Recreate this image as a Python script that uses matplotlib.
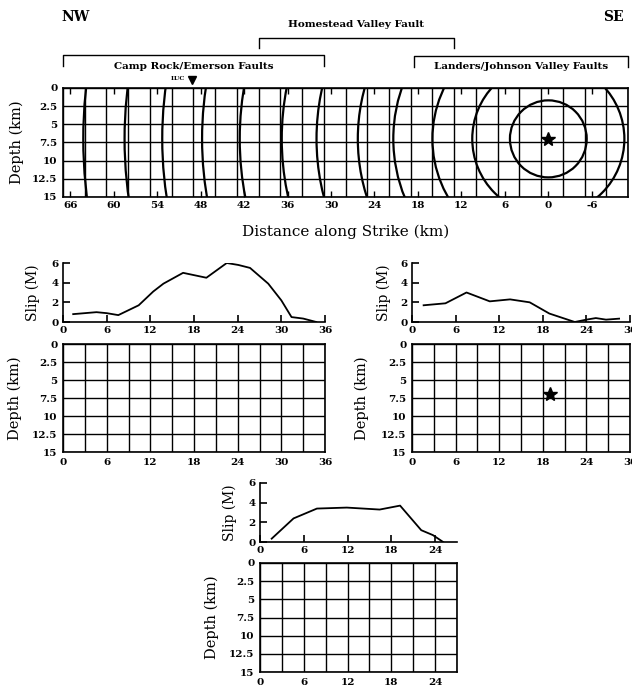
import numpy as np
import matplotlib.pyplot as plt
from matplotlib.patches import Circle
from matplotlib.transforms import blended_transform_factory

plt.rcParams['font.family'] = ['DejaVu Serif']
plt.rcParams['font.weight'] = 'bold'
plt.rcParams['axes.unicode_minus'] = False

# composite fault plane, km along strike from the epicenter (NW positive)
strike_lim = (67, -11)
strike_ticks = [66, 60, 54, 48, 42, 36, 30, 24, 18, 12, 6, 0, -6]
depth_ticks = [0, 2.5, 5, 7.5, 10, 12.5, 15]
depth_labels = ['0', '2.5', '5', '7.5', '10', '12.5', '15']
subfault = 3

hypo_strike, hypo_depth = 0, 7
front_radii = [5.3, 10.5, 16.0, 21.4, 26.3, 32.0, 36.8, 42.6, 47.8, 53.3, 58.5, 64.2]
luc_strike = 49.2

segment_names = ['Camp Rock/Emerson Faults', 'Homestead Valley Fault',
                 'Landers/Johnson Valley Faults']
bracket_ends = [(67, 31), (40, 13), (18.5, -11)]

# average slip along each segment (m)
camp_x = [1.4, 4.6, 6.0, 7.6, 10.4, 12.4, 13.8, 16.5, 19.7, 22.5, 24.1, 25.7,
          28.2, 30.0, 31.4, 33.0, 34.8]
camp_slip = [0.8, 1.0, 0.9, 0.7, 1.7, 3.1, 3.9, 5.0, 4.5, 6.0, 5.8, 5.5,
             3.9, 2.2, 0.5, 0.35, 0.0]
home_x = [1.6, 4.6, 7.5, 10.7, 13.5, 16.2, 18.9, 22.4, 24.0, 25.3, 26.7, 28.5]
home_slip = [1.7, 1.9, 3.0, 2.1, 2.3, 2.0, 0.86, 0.0, 0.24, 0.4, 0.24, 0.34]
land_x = [1.6, 4.6, 7.8, 11.9, 16.4, 19.2, 22.1, 23.7, 25.1]
land_slip = [0.34, 2.4, 3.4, 3.5, 3.3, 3.7, 1.2, 0.7, 0.0]

camp_len, home_len, land_len = 36, 30, 27
home_hypo = (19, 7)

W, H = 632, 686


def box(l, t, r, b):
    return [l / W, 1 - b / H, (r - l) / W, (b - t) / H]


def bold_ticks(ax, size=7.5):
    for lab in ax.get_xticklabels() + ax.get_yticklabels():
        lab.set_fontweight('bold')
        lab.set_fontsize(size)


def fault_grid(ax, x0, x1, xticks):
    lo, hi = min(x0, x1), max(x0, x1)
    ax.vlines(np.arange(lo, hi + 0.1, subfault), 0, 15, color='k', lw=1.0)
    ax.hlines(depth_ticks, lo, hi, color='k', lw=1.0)
    ax.set_xlim(x0, x1)
    ax.set_ylim(15, 0)
    ax.set_xticks(xticks)
    ax.set_yticks(depth_ticks)
    ax.set_yticklabels(depth_labels)
    ax.tick_params(axis='y', length=0, pad=4)
    ax.tick_params(axis='x', length=0, pad=4)
    for s in ax.spines.values():
        s.set_linewidth(1.2)
    bold_ticks(ax)


def side_label(ax, x, text, size=10.5):
    ax.text(x, 0.5, text, transform=ax.transAxes, rotation=90,
            ha='center', va='center', fontsize=size, fontweight='normal')


def slip_panel(ax, x, slip, length):
    ax.plot(x, slip, color='k', lw=1.3)
    ax.set_xlim(0, length)
    ax.set_ylim(0, 6)
    ax.spines[['top', 'right']].set_visible(False)
    for s in ax.spines.values():
        s.set_linewidth(1.2)
    ax.set_xticks(range(0, length + 1, 6))
    ax.set_yticks([0, 2, 4, 6])
    ax.tick_params(direction='in', length=5, width=1.2, pad=3)
    bold_ticks(ax)


fig = plt.figure(figsize=(W / 100, H / 100), dpi=100)

# --- whole rupture with rupture-front contours ---
ax = fig.add_axes(box(63, 88, 628, 197))
fault_grid(ax, strike_lim[0], strike_lim[1], strike_ticks)
ax.tick_params(axis='x', direction='in', length=4, width=1.0,
               top=True, bottom=True, pad=3)
for r in front_radii:
    ax.add_patch(Circle((hypo_strike, hypo_depth), r, fill=False,
                        ec='k', lw=1.6))
ax.plot(hypo_strike, hypo_depth, marker='*', ms=10, color='k')
side_label(ax, -0.081, 'Depth (km)')
ax.text(0.5, -0.32, 'Distance along Strike (km)', transform=ax.transAxes,
        ha='center', va='center', fontsize=11, fontweight='normal')

# station LUC
tr = blended_transform_factory(ax.transData, ax.transAxes)
ax.plot(luc_strike, 1.073, marker='v', ms=6, color='k', clip_on=False,
        transform=tr)
ax.annotate('LUC', (luc_strike, 1.073), xycoords=tr,
            xytext=(-5, 1), textcoords='offset points', ha='right',
            va='center', fontsize=4.5)

# fault segment brackets
bracket_y = [(1.303, 1.202), (1.459, 1.367), (1.290, 1.190)]
label_y = [1.195, 1.58, 1.195]
for name, (a, b), (yt, yb), ly in zip(segment_names, bracket_ends,
                                      bracket_y, label_y):
    ax.plot([a, a, b, b], [yb, yt, yt, yb], color='k', lw=1.0,
            transform=tr, clip_on=False)
    ax.text((a + b) / 2, ly, name, transform=tr, ha='center', va='center',
            fontsize=7.5)
ax.text(0.023, 1.655, 'NW', transform=ax.transAxes, ha='center',
        va='center', fontsize=10)
ax.text(0.975, 1.655, 'SE', transform=ax.transAxes, ha='center',
        va='center', fontsize=10)

# --- Camp Rock / Emerson ---
ax1s = fig.add_axes(box(63, 263, 325, 322))
slip_panel(ax1s, camp_x, camp_slip, camp_len)
side_label(ax1s, -0.115, 'Slip (M)', 10)
ax1 = fig.add_axes(box(63, 344, 325, 452))
fault_grid(ax1, 0, camp_len, range(0, camp_len + 1, 6))
side_label(ax1, -0.183, 'Depth (km)')

# --- Homestead Valley ---
ax2s = fig.add_axes(box(412, 263, 630, 322))
slip_panel(ax2s, home_x, home_slip, home_len)
side_label(ax2s, -0.128, 'Slip (M)', 10)
ax2 = fig.add_axes(box(412, 344, 630, 452))
fault_grid(ax2, 0, home_len, range(0, home_len + 1, 6))
ax2.plot(*home_hypo, marker='*', ms=10, color='k')
side_label(ax2, -0.229, 'Depth (km)')

# --- Landers / Johnson Valley ---
ax3s = fig.add_axes(box(260, 483, 457, 542))
slip_panel(ax3s, land_x, land_slip, land_len)
side_label(ax3s, -0.152, 'Slip (M)', 10)
ax3 = fig.add_axes(box(260, 563, 457, 672))
fault_grid(ax3, 0, land_len, range(0, land_len + 1, 6))
side_label(ax3, -0.244, 'Depth (km)')

fig.savefig('out.png', dpi=100)
